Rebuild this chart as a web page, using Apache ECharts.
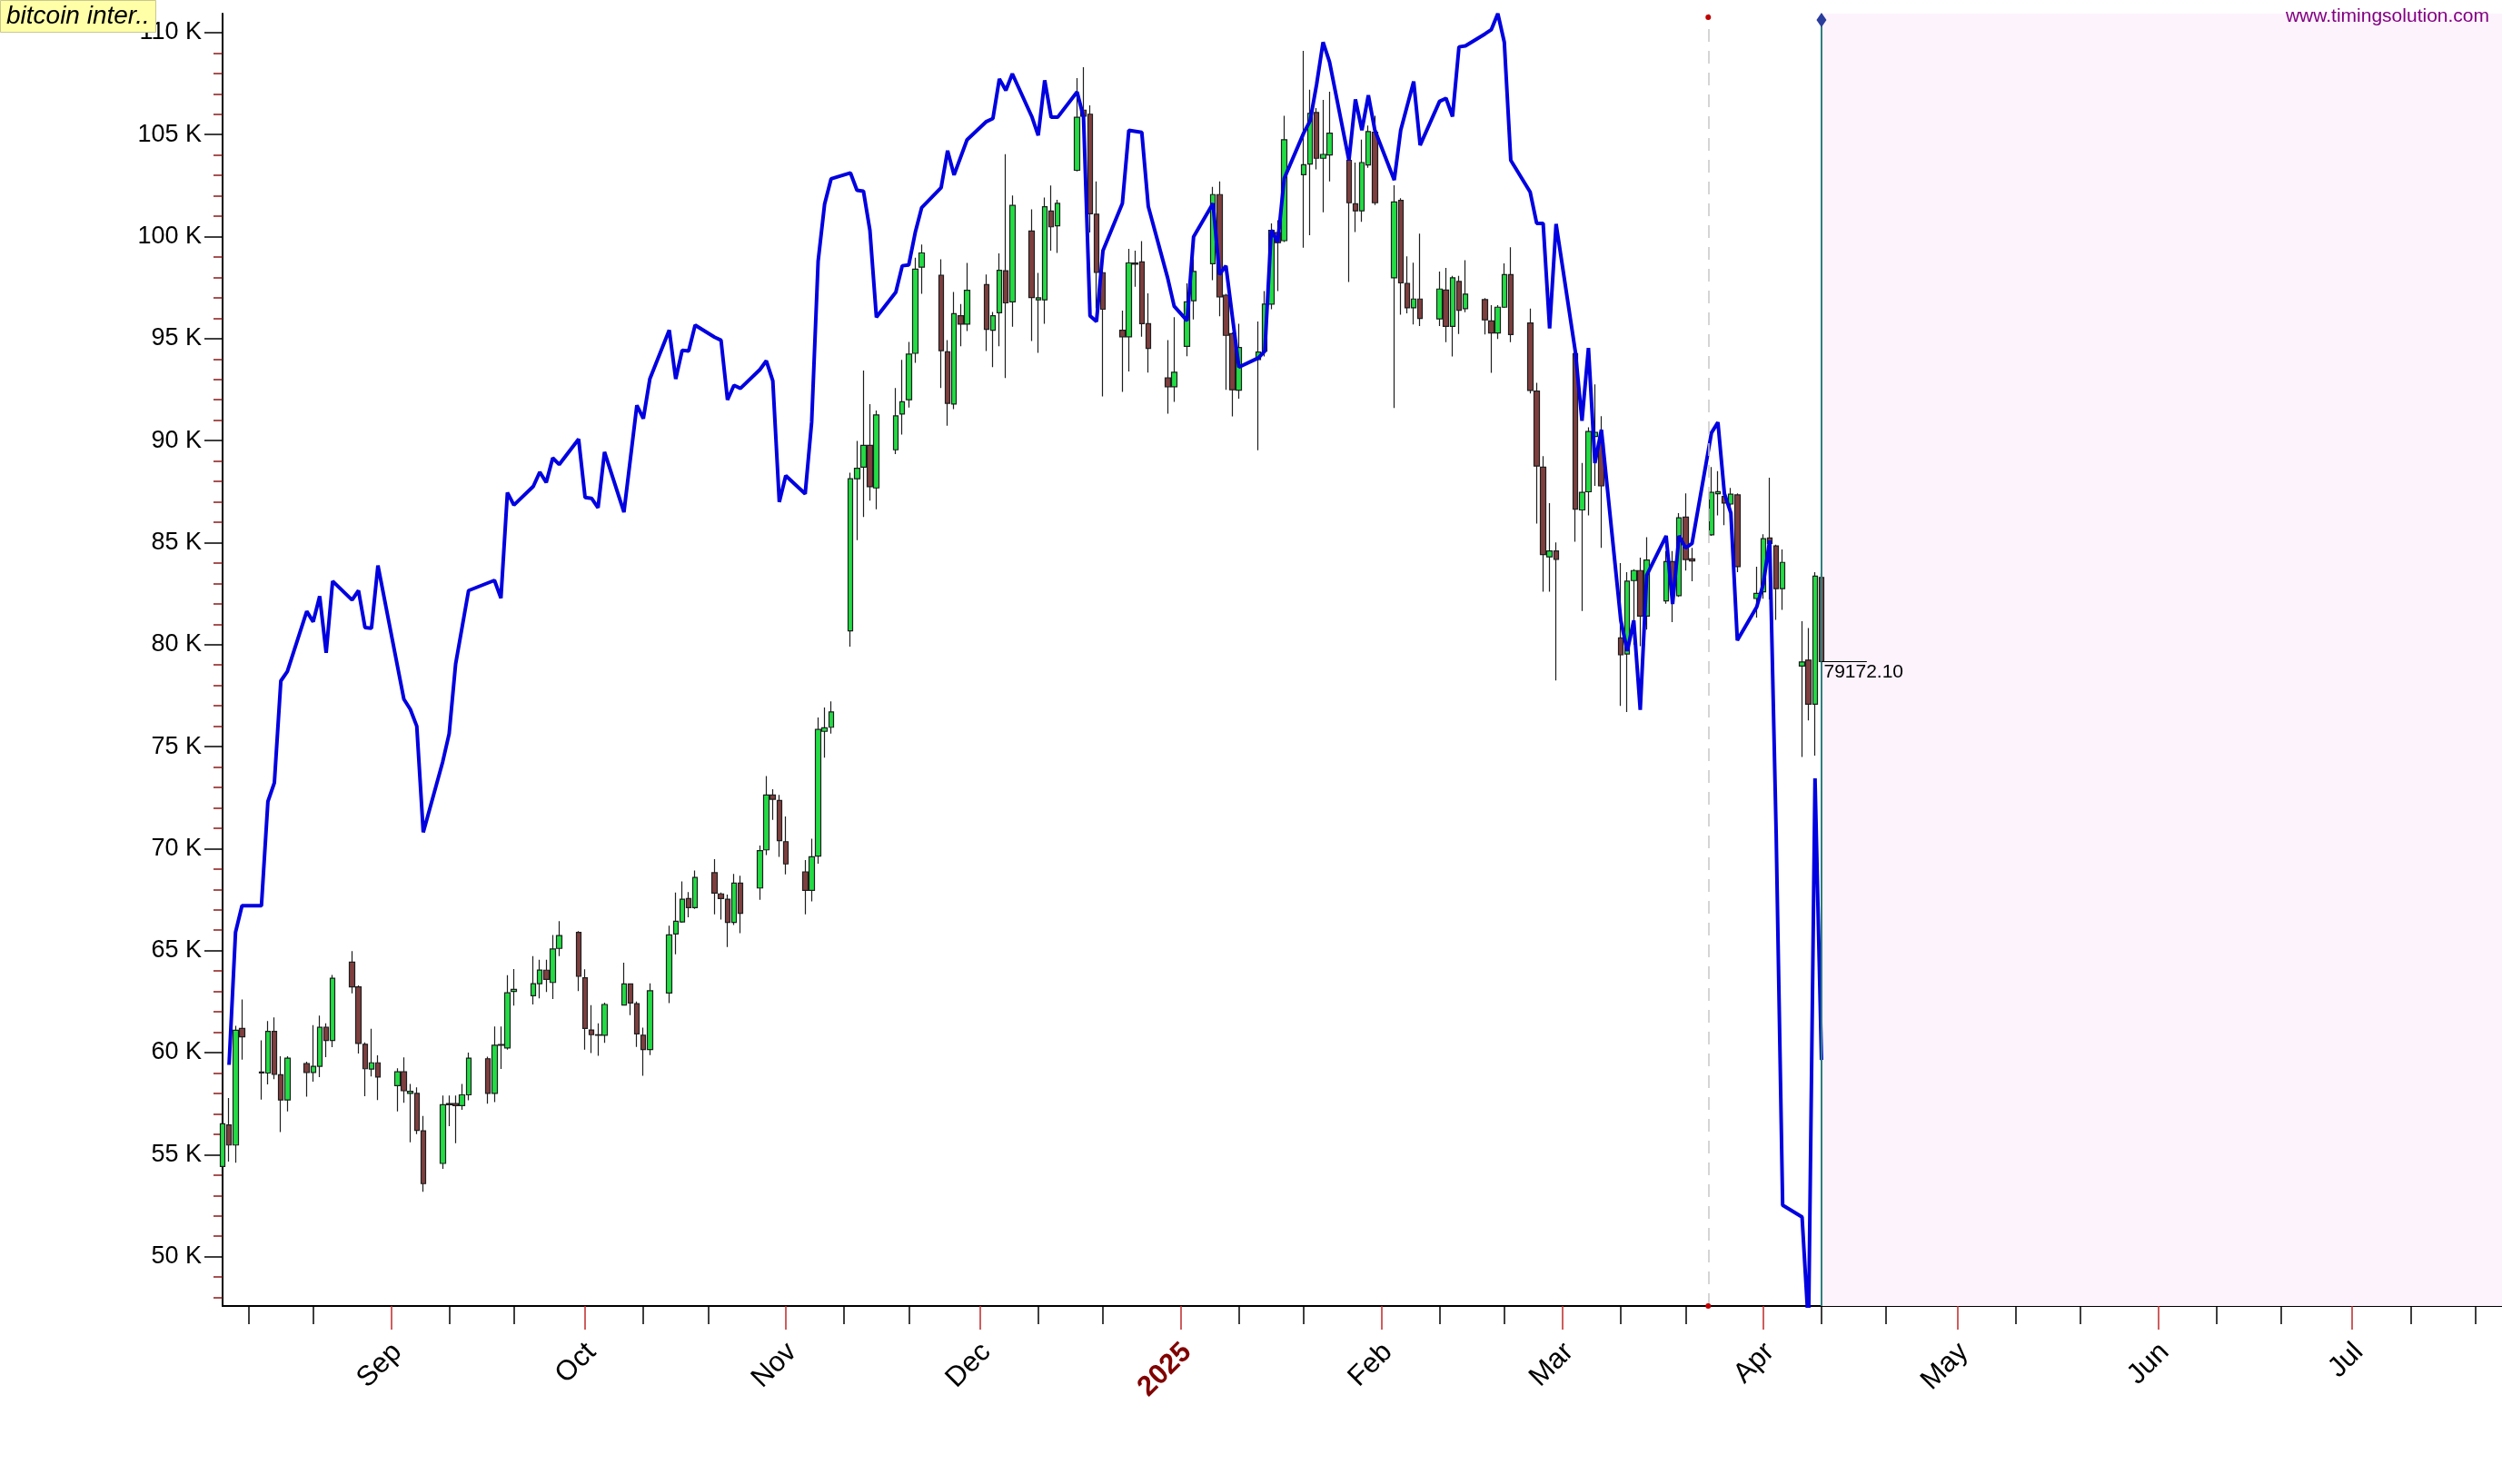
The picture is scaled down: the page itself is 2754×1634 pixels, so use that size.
<!DOCTYPE html>
<html>
<head>
<meta charset="utf-8">
<title>bitcoin inter..</title>
<script src="https://cdn.jsdelivr.net/npm/echarts@6/dist/echarts.min.js"></script>
<style>
html, body { margin: 0; padding: 0; background: #ffffff; overflow: hidden; }
#chart { width: 2754px; height: 1634px; }
</style>
</head>
<body>
<div id="chart"></div>
<script>
// daily bars, prices in thousands: [date, open, high, low, close]
var barsAug = [
  ['2024-08-06', 54.42, 57.00, 53.94, 56.51], ['2024-08-07', 56.46, 57.78, 54.66, 55.47],
  ['2024-08-08', 55.47, 61.31, 54.60, 61.10], ['2024-08-09', 61.19, 62.60, 59.66, 60.77],
  ['2024-08-12', 59.00, 60.60, 57.70, 59.05], ['2024-08-13', 59.00, 61.55, 58.44, 61.04],
  ['2024-08-14', 61.04, 61.73, 58.70, 58.94], ['2024-08-15', 58.92, 59.82, 56.10, 57.68],
  ['2024-08-16', 57.68, 59.82, 57.12, 59.73], ['2024-08-19', 59.46, 59.55, 57.84, 59.03],
  ['2024-08-20', 59.03, 61.35, 58.58, 59.33], ['2024-08-21', 59.33, 61.82, 58.80, 61.24],
  ['2024-08-22', 61.24, 61.44, 59.78, 60.60], ['2024-08-23', 60.60, 63.81, 60.27, 63.65],
  ['2024-08-26', 64.44, 64.98, 62.90, 63.22], ['2024-08-27', 63.22, 63.30, 59.96, 60.45],
  ['2024-08-28', 60.41, 60.50, 57.86, 59.21], ['2024-08-29', 59.19, 61.17, 58.83, 59.50],
  ['2024-08-30', 59.50, 59.87, 57.68, 58.80]
];
var barsSep = [
  ['2024-09-02', 58.38, 59.23, 57.12, 59.06], ['2024-09-03', 59.06, 59.77, 57.54, 58.13],
  ['2024-09-04', 58.00, 58.47, 55.60, 58.10], ['2024-09-05', 58.00, 58.30, 56.00, 56.19],
  ['2024-09-06', 56.17, 56.90, 53.18, 53.58], ['2024-09-09', 54.57, 57.90, 54.30, 57.45],
  ['2024-09-10', 57.45, 57.90, 56.40, 57.50], ['2024-09-11', 57.50, 57.90, 55.56, 57.40],
  ['2024-09-12', 57.40, 58.47, 57.20, 57.93], ['2024-09-13', 57.93, 60.00, 57.66, 59.73],
  ['2024-09-16', 59.70, 59.80, 57.50, 58.00], ['2024-09-17', 58.00, 61.28, 57.57, 60.36],
  ['2024-09-18', 60.36, 61.28, 59.20, 60.40], ['2024-09-19', 60.23, 63.80, 60.14, 62.93],
  ['2024-09-20', 63.00, 64.10, 62.30, 63.10], ['2024-09-23', 62.79, 64.73, 62.36, 63.38],
  ['2024-09-24', 63.38, 64.55, 62.66, 64.05], ['2024-09-25', 64.04, 64.55, 62.97, 63.59],
  ['2024-09-26', 63.44, 65.77, 62.63, 65.08], ['2024-09-27', 65.11, 66.44, 64.73, 65.74],
  ['2024-09-30', 65.89, 65.95, 63.02, 63.74]
];
var barsOct = [
  ['2024-10-01', 63.67, 64.08, 60.15, 61.19], ['2024-10-02', 61.11, 62.33, 59.98, 60.88],
  ['2024-10-03', 60.85, 61.44, 59.85, 60.87], ['2024-10-04', 60.85, 62.45, 60.48, 62.36],
  ['2024-10-07', 62.33, 64.41, 62.30, 63.37], ['2024-10-08', 63.37, 63.40, 61.84, 62.43],
  ['2024-10-09', 62.40, 62.51, 60.28, 60.92], ['2024-10-10', 60.85, 61.22, 58.87, 60.15],
  ['2024-10-11', 60.15, 63.40, 59.88, 63.03], ['2024-10-14', 62.92, 66.22, 62.43, 65.77],
  ['2024-10-15', 65.82, 67.85, 64.82, 66.44], ['2024-10-16', 66.41, 68.39, 66.37, 67.52],
  ['2024-10-17', 67.55, 67.87, 66.63, 67.11], ['2024-10-18', 67.11, 68.93, 67.05, 68.59],
  ['2024-10-21', 68.82, 69.48, 66.78, 67.82], ['2024-10-22', 67.78, 67.85, 66.52, 67.55],
  ['2024-10-23', 67.52, 67.75, 65.18, 66.38], ['2024-10-24', 66.38, 68.76, 66.25, 68.31],
  ['2024-10-25', 68.31, 68.67, 65.86, 66.83], ['2024-10-28', 68.07, 70.15, 67.49, 69.90],
  ['2024-10-29', 69.94, 73.56, 69.68, 72.63], ['2024-10-30', 72.63, 72.91, 71.41, 72.42],
  ['2024-10-31', 72.36, 72.63, 69.60, 70.39]
];
var barsNov = [
  ['2024-11-01', 70.34, 71.58, 68.74, 69.25], ['2024-11-04', 68.86, 69.44, 66.78, 67.95],
  ['2024-11-05', 67.95, 70.49, 67.41, 69.60], ['2024-11-06', 69.63, 76.43, 69.26, 75.84],
  ['2024-11-07', 75.75, 76.92, 74.46, 75.92], ['2024-11-08', 75.95, 77.22, 75.64, 76.70],
  ['2024-11-11', 80.67, 88.43, 79.90, 88.13], ['2024-11-12', 88.13, 89.98, 85.12, 88.64],
  ['2024-11-13', 88.70, 93.43, 86.25, 89.77], ['2024-11-14', 89.77, 91.79, 87.06, 87.74],
  ['2024-11-15', 87.68, 91.47, 86.63, 91.26], ['2024-11-18', 89.55, 92.58, 89.34, 91.21],
  ['2024-11-19', 91.30, 93.96, 90.30, 91.90], ['2024-11-20', 92.00, 94.84, 91.62, 94.24],
  ['2024-11-21', 94.28, 98.97, 93.81, 98.40], ['2024-11-22', 98.50, 99.61, 97.20, 99.20],
  ['2024-11-25', 98.10, 98.89, 92.58, 94.41], ['2024-11-26', 94.35, 94.92, 90.73, 91.83],
  ['2024-11-27', 91.79, 97.29, 91.54, 96.22], ['2024-11-28', 96.12, 96.69, 94.62, 95.71],
  ['2024-11-29', 95.71, 98.71, 95.37, 97.37]
];
var barsDec = [
  ['2024-12-02', 97.65, 98.14, 94.39, 95.45], ['2024-12-03', 95.41, 96.31, 93.60, 96.12],
  ['2024-12-04', 96.27, 99.18, 94.62, 98.35], ['2024-12-05', 98.33, 104.04, 93.07, 96.75],
  ['2024-12-06', 96.80, 102.02, 95.58, 101.53], ['2024-12-09', 100.27, 101.34, 94.88, 97.01],
  ['2024-12-10', 96.90, 98.22, 94.30, 97.00], ['2024-12-11', 96.90, 101.91, 95.73, 101.46],
  ['2024-12-12', 101.25, 102.50, 99.31, 100.48], ['2024-12-13', 100.53, 101.80, 99.20, 101.63],
  ['2024-12-16', 103.25, 107.77, 103.19, 105.85], ['2024-12-17', 106.20, 108.30, 105.30, 105.90],
  ['2024-12-18', 106.00, 106.43, 100.20, 101.12], ['2024-12-19', 101.10, 102.70, 96.48, 98.25],
  ['2024-12-20', 98.23, 98.29, 92.17, 96.44], ['2024-12-23', 95.41, 96.37, 92.39, 95.09],
  ['2024-12-24', 95.09, 99.40, 93.39, 98.71], ['2024-12-25', 98.70, 99.31, 97.54, 98.65],
  ['2024-12-26', 98.76, 99.78, 95.09, 95.73], ['2024-12-27', 95.73, 97.22, 93.33, 94.52],
  ['2024-12-30', 93.07, 94.92, 91.32, 92.64], ['2024-12-31', 92.64, 96.05, 91.90, 93.35]
];
var barsJan = [
  ['2025-01-02', 94.62, 97.71, 94.14, 96.80], ['2025-01-03', 96.86, 98.89, 95.94, 98.29],
  ['2025-01-06', 98.67, 102.44, 97.86, 102.06], ['2025-01-07', 102.06, 102.70, 96.09, 97.05],
  ['2025-01-08', 97.12, 97.20, 92.49, 95.16], ['2025-01-09', 95.24, 95.30, 91.19, 92.49],
  ['2025-01-10', 92.47, 95.73, 92.05, 94.56], ['2025-01-13', 93.97, 95.84, 89.53, 94.34],
  ['2025-01-14', 94.39, 97.33, 94.12, 96.69], ['2025-01-15', 96.69, 100.65, 96.44, 100.31],
  ['2025-01-16', 100.20, 100.80, 97.33, 99.70], ['2025-01-17', 99.80, 105.92, 99.73, 104.75],
  ['2025-01-20', 103.03, 109.11, 99.46, 103.52], ['2025-01-21', 103.56, 107.20, 100.07, 106.04],
  ['2025-01-22', 106.08, 106.30, 103.29, 103.84], ['2025-01-23', 103.84, 106.70, 101.19, 104.03],
  ['2025-01-24', 104.00, 107.10, 102.70, 105.07], ['2025-01-27', 103.74, 104.18, 97.77, 101.66],
  ['2025-01-28', 101.61, 103.63, 100.22, 101.26], ['2025-01-29', 101.26, 104.75, 100.72, 103.63],
  ['2025-01-30', 103.51, 105.44, 103.37, 105.15], ['2025-01-31', 105.12, 105.92, 101.55, 101.66]
];
var barsFeb = [
  ['2025-02-03', 97.98, 102.52, 91.60, 101.70], ['2025-02-04', 101.78, 101.88, 96.17, 97.73],
  ['2025-02-05', 97.70, 99.03, 96.24, 96.51], ['2025-02-06', 96.51, 98.72, 95.69, 96.94],
  ['2025-02-07', 96.94, 100.14, 95.62, 95.99], ['2025-02-10', 95.97, 98.29, 95.62, 97.43],
  ['2025-02-11', 97.38, 98.47, 94.83, 95.60], ['2025-02-12', 95.60, 98.07, 94.12, 97.98],
  ['2025-02-13', 97.80, 98.07, 95.23, 96.39], ['2025-02-14', 96.47, 98.84, 96.29, 97.18],
  ['2025-02-17', 96.91, 96.98, 95.20, 95.92], ['2025-02-18', 95.87, 96.64, 93.32, 95.28],
  ['2025-02-19', 95.28, 96.64, 94.98, 96.54], ['2025-02-20', 96.54, 98.69, 96.51, 98.14],
  ['2025-02-21', 98.14, 99.48, 94.83, 95.20], ['2025-02-24', 95.77, 96.47, 92.31, 92.46],
  ['2025-02-25', 92.43, 92.83, 85.93, 88.75], ['2025-02-26', 88.70, 89.24, 82.59, 84.41],
  ['2025-02-27', 84.30, 86.94, 82.59, 84.59], ['2025-02-28', 84.59, 85.01, 78.24, 84.18]
];
var barsMar = [
  ['2025-03-03', 94.27, 94.50, 85.04, 86.64], ['2025-03-04', 86.60, 88.90, 81.65, 87.46],
  ['2025-03-05', 87.49, 90.65, 86.33, 90.45], ['2025-03-06', 90.20, 92.75, 87.78, 90.40],
  ['2025-03-07', 89.90, 91.20, 84.74, 87.78], ['2025-03-10', 80.33, 84.00, 77.00, 79.50],
  ['2025-03-11', 79.54, 83.55, 76.70, 83.11], ['2025-03-12', 83.14, 83.70, 80.00, 83.63],
  ['2025-03-13', 83.63, 84.26, 79.92, 81.40], ['2025-03-14', 81.40, 85.26, 80.73, 84.15],
  ['2025-03-17', 82.14, 84.59, 82.00, 84.07], ['2025-03-18', 84.07, 84.59, 81.10, 82.74],
  ['2025-03-19', 82.40, 86.45, 82.34, 86.22], ['2025-03-20', 86.25, 87.41, 83.63, 84.17],
  ['2025-03-21', 84.20, 84.74, 83.11, 84.10], ['2025-03-24', 85.38, 88.70, 85.33, 87.46],
  ['2025-03-25', 87.40, 88.50, 86.33, 87.50], ['2025-03-26', 87.26, 87.56, 85.85, 86.94],
  ['2025-03-27', 86.89, 87.68, 86.45, 87.37], ['2025-03-28', 87.34, 87.41, 83.55, 83.82],
  ['2025-03-31', 82.26, 83.82, 81.33, 82.51]
];
var barsApr = [
  ['2025-04-01', 82.59, 85.41, 82.25, 85.19], ['2025-04-02', 85.23, 88.18, 82.22, 84.96],
  ['2025-04-03', 84.84, 84.90, 81.21, 82.74], ['2025-04-04', 82.74, 84.66, 81.70, 84.03],
  ['2025-04-07', 78.95, 81.15, 74.49, 79.15], ['2025-04-08', 79.24, 80.81, 76.28, 77.08],
  ['2025-04-09', 77.08, 83.55, 74.56, 83.36], ['2025-04-10', 83.29, 83.48, 79.10, 79.1721]
];

// blue projection line, thousands: [date, value]
var projAug = [
  ['2024-08-07', 59.40], ['2024-08-08', 65.90], ['2024-08-09', 67.20], ['2024-08-12', 67.20],
  ['2024-08-13', 72.31], ['2024-08-14', 73.23], ['2024-08-15', 78.22], ['2024-08-16', 78.68],
  ['2024-08-19', 81.63], ['2024-08-20', 81.12], ['2024-08-21', 82.37], ['2024-08-22', 79.60],
  ['2024-08-23', 83.11], ['2024-08-26', 82.19], ['2024-08-27', 82.65], ['2024-08-28', 80.84],
  ['2024-08-29', 80.80], ['2024-08-30', 83.88]
];
var projSep = [
  ['2024-09-03', 77.33], ['2024-09-04', 76.83], ['2024-09-05', 76.00], ['2024-09-06', 70.80],
  ['2024-09-09', 74.25], ['2024-09-10', 75.63], ['2024-09-11', 79.05], ['2024-09-13', 82.65],
  ['2024-09-17', 83.15], ['2024-09-18', 82.28], ['2024-09-19', 87.45], ['2024-09-20', 86.84],
  ['2024-09-23', 87.76], ['2024-09-24', 88.46], ['2024-09-25', 87.95], ['2024-09-26', 89.15],
  ['2024-09-27', 88.83], ['2024-09-30', 90.07]
];
var projOct = [
  ['2024-10-01', 87.21], ['2024-10-02', 87.17], ['2024-10-03', 86.71], ['2024-10-04', 89.44],
  ['2024-10-07', 86.49], ['2024-10-09', 91.73], ['2024-10-10', 91.08], ['2024-10-11', 93.02],
  ['2024-10-14', 95.42], ['2024-10-15', 93.02], ['2024-10-16', 94.43], ['2024-10-17', 94.39],
  ['2024-10-18', 95.66], ['2024-10-21', 95.07], ['2024-10-22', 94.92], ['2024-10-23', 92.00],
  ['2024-10-24', 92.71], ['2024-10-25', 92.56], ['2024-10-28', 93.48], ['2024-10-29', 93.91],
  ['2024-10-30', 92.93], ['2024-10-31', 86.99]
];
var projNov = [
  ['2024-11-01', 88.28], ['2024-11-04', 87.39], ['2024-11-05', 90.90], ['2024-11-06', 98.80],
  ['2024-11-07', 101.59], ['2024-11-08', 102.83], ['2024-11-11', 103.12], ['2024-11-12', 102.27],
  ['2024-11-13', 102.23], ['2024-11-14', 100.31], ['2024-11-15', 96.05], ['2024-11-18', 97.27],
  ['2024-11-19', 98.57], ['2024-11-20', 98.61], ['2024-11-21', 100.20], ['2024-11-22', 101.42],
  ['2024-11-25', 102.40], ['2024-11-26', 104.21], ['2024-11-27', 103.02], ['2024-11-29', 104.74]
];
var projDec = [
  ['2024-12-02', 105.64], ['2024-12-03', 105.79], ['2024-12-04', 107.73], ['2024-12-05', 107.17],
  ['2024-12-06', 107.98], ['2024-12-09', 105.89], ['2024-12-10', 104.96], ['2024-12-11', 107.66],
  ['2024-12-12', 105.85], ['2024-12-13', 105.85], ['2024-12-16', 107.09], ['2024-12-17', 105.85],
  ['2024-12-18', 96.12], ['2024-12-19', 95.84], ['2024-12-20', 99.31], ['2024-12-23', 101.63],
  ['2024-12-24', 105.21], ['2024-12-26', 105.11], ['2024-12-27', 101.48], ['2024-12-30', 97.97],
  ['2024-12-31', 96.59]
];
var projJan = [
  ['2025-01-02', 95.88], ['2025-01-03', 99.99], ['2025-01-06', 101.63], ['2025-01-07', 98.14],
  ['2025-01-08', 98.57], ['2025-01-09', 96.05], ['2025-01-10', 93.60], ['2025-01-13', 94.05],
  ['2025-01-14', 94.39], ['2025-01-15', 100.32], ['2025-01-16', 99.73], ['2025-01-17', 102.85],
  ['2025-01-20', 105.07], ['2025-01-21', 105.67], ['2025-01-22', 107.45], ['2025-01-23', 109.53],
  ['2025-01-24', 108.56], ['2025-01-27', 103.74], ['2025-01-28', 106.73], ['2025-01-29', 105.22],
  ['2025-01-30', 106.93], ['2025-01-31', 105.22]
];
var projFeb = [
  ['2025-02-03', 102.77], ['2025-02-04', 105.22], ['2025-02-05', 106.41], ['2025-02-06', 107.60],
  ['2025-02-07', 104.48], ['2025-02-10', 106.63], ['2025-02-11', 106.78], ['2025-02-12', 105.89],
  ['2025-02-13', 109.30], ['2025-02-14', 109.35], ['2025-02-17', 109.93], ['2025-02-18', 110.15],
  ['2025-02-19', 110.93], ['2025-02-20', 109.53], ['2025-02-21', 103.74], ['2025-02-24', 102.18],
  ['2025-02-25', 100.65], ['2025-02-26', 100.65], ['2025-02-27', 95.50], ['2025-02-28', 100.62]
];
var projMar = [
  ['2025-03-03', 94.31], ['2025-03-04', 90.97], ['2025-03-05', 94.54], ['2025-03-06', 88.90],
  ['2025-03-07', 90.53], ['2025-03-10', 81.18], ['2025-03-11', 79.69], ['2025-03-12', 81.18],
  ['2025-03-13', 76.80], ['2025-03-14', 83.40], ['2025-03-17', 85.33], ['2025-03-18', 81.99],
  ['2025-03-19', 85.33], ['2025-03-20', 84.74], ['2025-03-21', 84.96], ['2025-03-24', 90.38],
  ['2025-03-25', 90.90], ['2025-03-26', 87.41], ['2025-03-27', 86.45], ['2025-03-28', 80.21],
  ['2025-03-31', 81.85]
];
var projApr = [
  ['2025-04-01', 82.96], ['2025-04-02', 85.11], ['2025-04-03', 70.70], ['2025-04-04', 52.52],
  ['2025-04-07', 51.94], ['2025-04-08', 46.50], ['2025-04-09', 73.44], ['2025-04-10', 59.64]
];

// axes
var xStart = '2024-08-06';
var xEnd = '2025-07-24 03:00';
var splitDate = '2025-03-23 12:00';   // dashed marker line
var monthTicks = ['2024-09-01', '2024-10-01', '2024-11-01', '2024-12-01', '2025-01-01', '2025-02-01',
                  '2025-03-01', '2025-04-01', '2025-05-01', '2025-06-01', '2025-07-01'];
var monthLabels = ['Sep', 'Oct', 'Nov', 'Dec', '2025', 'Feb', 'Mar', 'Apr', 'May', 'Jun', 'Jul'];
var minorTicks = ['2024-08-10', '2024-08-20', '2024-09-10', '2024-09-20', '2024-10-10', '2024-10-20',
                  '2024-11-10', '2024-11-20', '2024-12-10', '2024-12-20', '2025-01-10', '2025-01-20',
                  '2025-02-10', '2025-02-20', '2025-03-10', '2025-03-20', '2025-04-10', '2025-04-20',
                  '2025-05-10', '2025-05-20', '2025-06-10', '2025-06-20', '2025-07-10', '2025-07-20'];
var priceTicks = [50, 55, 60, 65, 70, 75, 80, 85, 90, 95, 100, 105, 110];
var yMin = 47.58;
var yMax = 110.93;

function toTime(s) {
    var p = s.split(/[- :]/);
    return new Date(+p[0], +p[1] - 1, +p[2], +(p[3] || 0), +(p[4] || 0)).getTime();
}

var DAY = 24 * 3600 * 1000;
var FONT = '"Liberation Sans", Arial, sans-serif';

var allBars = [].concat(barsAug, barsSep, barsOct, barsNov, barsDec, barsJan, barsFeb, barsMar, barsApr);
var allProj = [].concat(projAug, projSep, projOct, projNov, projDec, projJan, projFeb, projMar, projApr);

// candlestick wants [time, open, close, low, high]
var candleData = allBars.map(function (b) { return [toTime(b[0]), b[1], b[4], b[3], b[2]]; });
var projData = allProj.map(function (p) { return [toTime(p[0]), p[1]]; });

var lastBar = allBars[allBars.length - 1];
var lastTime = toTime(lastBar[0]);
var lastClose = lastBar[4];
var monthTimes = monthTicks.map(toTime);
// rotated labels sit a little right of their tick, so anchor them one day later
var labelTimes = monthTimes.map(function (t) { return t + DAY; });
var minorTimes = minorTicks.map(toTime);
var splitTime = toTime(splitDate);
var xMin = toTime(xStart);
var xMax = toTime(xEnd);

var chart = echarts.init(document.getElementById('chart'));

var option = {
    animation: false,
    backgroundColor: '#ffffff',
    textStyle: { fontFamily: FONT },
    title: {
        text: 'bitcoin inter..',
        left: 0,
        top: 0,
        padding: [4, 7, 4, 7],
        backgroundColor: '#ffffa8',
        borderColor: '#c8c890',
        borderWidth: 1,
        textStyle: { fontFamily: FONT, fontSize: 28, fontStyle: 'italic', fontWeight: 'normal', color: '#000' }
    },
    graphic: [{
        type: 'text',
        right: 14,
        top: 8,
        z: 100,
        style: { text: 'www.timingsolution.com', fill: '#800080', font: '21px "Liberation Sans", Arial, sans-serif' }
    }],
    grid: { left: 245, right: 0, top: 15, bottom: 196 },
    xAxis: [{
        // timestamps on a plain value axis, month ticks given explicitly
        type: 'value',
        min: xMin,
        max: xMax,
        position: 'bottom',
        axisLine: { show: true, lineStyle: { color: '#000', width: 2 } },
        axisTick: { show: true, customValues: monthTimes, length: 26, lineStyle: { color: '#c02828', width: 1.5 } },
        axisLabel: {
            show: true,
            customValues: labelTimes,
            rotate: 45,
            margin: 46,
            color: '#000',
            fontFamily: FONT,
            fontSize: 31,
            formatter: function (value) {
                var i = labelTimes.indexOf(value);
                var txt = i >= 0 ? monthLabels[i] : '';
                return /^\d{4}$/.test(txt) ? '{yr|' + txt + '}' : txt;
            },
            rich: {
                yr: { color: '#800000', fontWeight: 'bold', fontFamily: FONT, fontSize: 31 }
            }
        },
        splitLine: { show: false }
    }, {
        // 10th / 20th day ticks
        type: 'value',
        min: xMin,
        max: xMax,
        position: 'bottom',
        axisLine: { show: false },
        axisTick: { show: true, customValues: minorTimes, length: 20, lineStyle: { color: '#000', width: 1.5 } },
        axisLabel: { show: false },
        splitLine: { show: false }
    }],
    yAxis: {
        type: 'value',
        min: yMin,
        max: yMax,
        splitNumber: 12,
        position: 'left',
        axisLine: { show: true, lineStyle: { color: '#000', width: 2 } },
        axisTick: { show: true, customValues: priceTicks, length: 20, lineStyle: { color: '#000', width: 1.5 } },
        minorTick: { show: true, splitNumber: 5, length: 10, lineStyle: { color: '#8b1a1a', width: 1.5 } },
        axisLabel: {
            customValues: priceTicks,
            margin: 23,
            color: '#000',
            fontFamily: FONT,
            fontSize: 27,
            formatter: function (v) { return v + ' K'; }
        },
        splitLine: { show: false },
        minorSplitLine: { show: false }
    },
    series: [{
        name: 'bitcoin',
        type: 'candlestick',
        data: candleData,
        barWidth: 6,
        z: 3,
        itemStyle: {
            color: '#22dd44',
            color0: '#7f3f3f',
            borderColor: '#1e1e1e',
            borderColor0: '#1e1e1e',
            borderColorDoji: '#1e1e1e',
            borderWidth: 1.2
        },
        markLine: {
            silent: true,
            symbol: ['none', 'none'],
            label: { show: false },
            data: [
                [{ xAxis: splitTime, yAxis: yMin }, { xAxis: splitTime, yAxis: yMax,
                    lineStyle: { color: '#c8c8c8', type: [14, 10], width: 1.5 } }],
                [{ xAxis: lastTime, yAxis: yMin }, { xAxis: lastTime, yAxis: yMax,
                    lineStyle: { color: '#2e7f7f', type: 'solid', width: 2 } }],
                [{ coord: [lastTime, lastClose] }, { coord: [lastTime + 7 * DAY, lastClose],
                    lineStyle: { color: '#000', type: 'solid', width: 1.2 } }]
            ]
        },
        markPoint: {
            silent: true,
            label: { show: false },
            data: [
                { coord: [splitTime, yMax], symbol: 'circle', symbolSize: 6, symbolOffset: [0, 4], itemStyle: { color: '#c00000' } },
                { coord: [splitTime, yMin], symbol: 'circle', symbolSize: 6, itemStyle: { color: '#c00000' } },
                { coord: [lastTime, yMax], symbol: 'diamond', symbolSize: [11, 16], symbolOffset: [0, 7], itemStyle: { color: '#2a3c9c' } },
                {
                    coord: [lastTime, lastClose],
                    symbol: 'circle',
                    symbolSize: 1,
                    itemStyle: { color: 'rgba(0,0,0,0)' },
                    label: {
                        show: true,
                        position: 'right',
                        distance: 2,
                        offset: [0, 12],
                        formatter: (lastClose * 1000).toFixed(2),
                        color: '#000',
                        fontFamily: FONT,
                        fontSize: 21
                    }
                }
            ]
        }
    }, {
        name: 'projection',
        type: 'line',
        data: projData,
        showSymbol: false,
        symbol: 'none',
        z: 4,
        lineStyle: { color: '#0000e0', width: 4 },
        markArea: {
            silent: true,
            itemStyle: { color: '#fdf3fd' },
            data: [[{ xAxis: lastTime }, { xAxis: xMax }]]
        }
    }]
};

chart.setOption(option);
</script>
</body>
</html>
